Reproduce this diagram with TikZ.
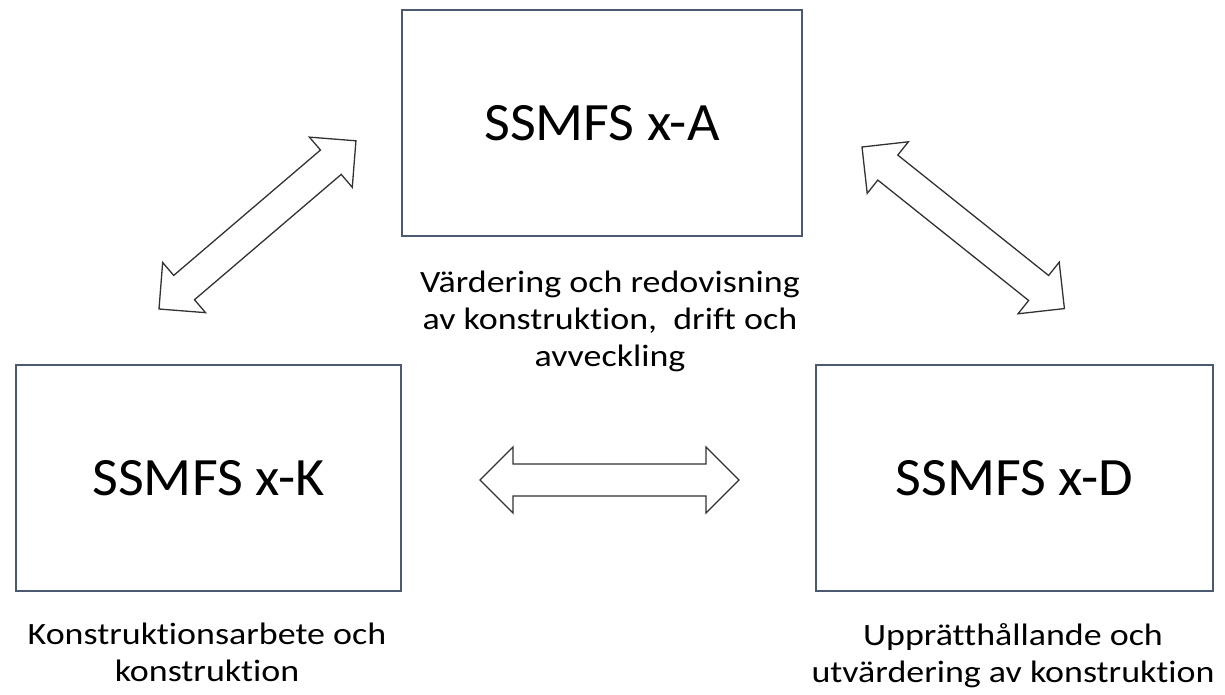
\documentclass[tikz,border=0pt]{standalone}
\usepackage{fontspec}
\setmainfont{Carlito}[RawFeature={-liga}]
\newfontfamily\lblfont[FakeStretch=1.16,RawFeature={-liga}]{Carlito}
\newfontfamily\boxfont[FakeStretch=1.04,RawFeature={-liga}]{Carlito}
\definecolor{boxline}{RGB}{75,90,112}
\definecolor{arrline}{RGB}{50,50,50}
\begin{document}
\begin{tikzpicture}[x=1pt,y=-1pt,
  sbox/.style={draw=boxline,line width=2pt,fill=white,inner sep=0pt,
    font=\boxfont\fontsize{54}{60}\selectfont},
  lbl/.style={align=center,inner sep=0pt,font=\lblfont\fontsize{31}{37}\selectfont},
  dblarr/.pic={
    \draw[arrline,line width=1.3pt,line join=miter,fill=white]
      (0,0) -- (33,33) -- (33,16) -- (226,16) -- (226,33) -- (259,0)
      -- (226,-33) -- (226,-16) -- (33,-16) -- (33,-33) -- cycle;
  }]
\useasboundingbox (0,0) rectangle (1225,695);
\node[sbox,minimum width=400pt,minimum height=226pt] (A) at (602,123) {SSMFS x-A};
\node[sbox,minimum width=385pt,minimum height=226pt] (K) at (208.5,478) {SSMFS x-K};
\node[sbox,minimum width=397pt,minimum height=226pt] (D) at (1014.5,478) {SSMFS x-D};
\node[lbl,anchor=base] (la) at (610,366) {Värdering och redovisning\\av konstruktion,~ drift och\\avveckling};
\node[lbl,anchor=base] (lk) at (207,681) {Konstruktionsarbete och\\konstruktion};
\node[lbl,anchor=base] (ld) at (1013,682) {Upprätthållande och\\utvärdering av konstruktion};
\coordinate (a1) at (159,309);
\coordinate (a2) at (862,147);
\coordinate (a3) at (480,480);
\pic[rotate=40.5] (arrKA) at (a1) {dblarr};
\pic[rotate=-38.6] (arrAD) at (a2) {dblarr};
\pic (arrKD) at (a3) {dblarr};
\end{tikzpicture}
\end{document}
